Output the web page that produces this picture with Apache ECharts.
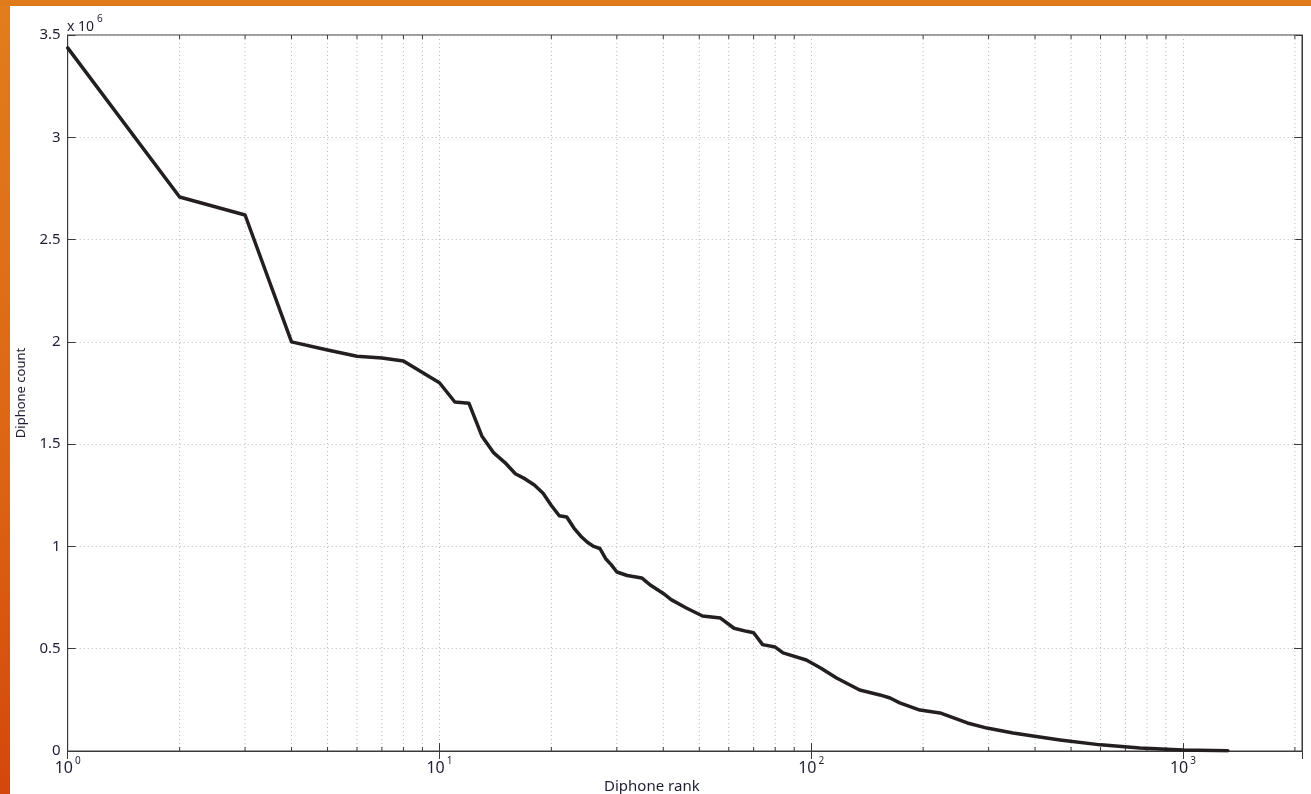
<!DOCTYPE html>
<html><head><meta charset="utf-8">
<script src="https://cdn.jsdelivr.net/npm/echarts@6/dist/echarts.min.js"></script>
<style>
html,body{margin:0;padding:0;width:1311px;height:794px;overflow:hidden;}
body{background:
 linear-gradient(#df7b1b,#df7b1b) 0 0/100% 6px no-repeat,
 linear-gradient(180deg,#e27d1d 0%,#dc6414 60%,#d4470c 100%) 0 0/10px 100% no-repeat,
 #ffffff;}
#chart{position:absolute;left:0;top:0;width:1311px;height:794px;}
</style></head><body><div id="chart"></div>
<script>
// Diphone rank (x, log scale)
const ranks = [1,2,3,4,5,6,7,8,9,10,11,12,13,14,15,16,17,18,19,20,21,22,23,24,25,26,27,28,29,30,32,35,37,40,42,46,51,57,62,67,70,74,80,84,97,106,117,135,153,163,173,196,222,263,297,349,395,467,600,766,1000,1320];
// Diphone count, in units of 10^6
const counts = [3.437,2.708,2.62,2.0,1.96,1.93,1.921,1.906,1.85,1.80,1.706,1.70,1.54,1.457,1.41,1.355,1.33,1.30,1.26,1.20,1.15,1.144,1.09,1.05,1.02,1.0,0.99,0.94,0.91,0.875,0.858,0.846,0.81,0.77,0.74,0.70,0.66,0.65,0.60,0.585,0.578,0.52,0.508,0.48,0.445,0.406,0.357,0.298,0.274,0.259,0.235,0.20,0.186,0.137,0.112,0.088,0.073,0.054,0.03,0.015,0.005,0.001];
// minor grid positions on the log x axis
const minorRanks = [2,3,4,5,6,7,8,9,20,30,40,50,60,70,80,90,200,300,400,500,600,700,800,900,2000];
const xMin = 1, xMax = 2090;
const yMin = 0, yMax = 3.5, yStep = 0.5;
const xTitle = 'Diphone rank';
const yTitle = 'Diphone count';
const yScaleNote = '{b|x 10}{s|6}';

const FONT = '"Noto Sans", "Open Sans", sans-serif';
const TXT = '#1e1e32';
const AX = '#3a3a3a';
const GRIDC = '#b8b8b8';

const lineData = ranks.map((r, i) => [r, counts[i]]);
const minorData = minorRanks.map(r => [r, 0]);

function logLabel(v) {
  const e = Math.round(Math.log10(v));
  if (Math.abs(Math.log10(v) - e) > 1e-6) return '';
  return '{b|10}{s|' + e + '}';
}

const chart = echarts.init(document.getElementById('chart'), null, {renderer: 'canvas'});
chart.setOption({
  animation: false,
  textStyle: {fontFamily: FONT},
  title: {
    text: yScaleNote, left: 67, top: 14, padding: 0,
    textStyle: {color: TXT, fontFamily: FONT, fontWeight: 'normal',
      rich: {
        b: {fontSize: 14, fontWeight: 'normal', color: TXT, fontFamily: FONT, verticalAlign: 'bottom'},
        s: {fontSize: 10, fontWeight: 'normal', color: TXT, fontFamily: FONT, verticalAlign: 'bottom', padding: [0, 0, 10, 3]}
      }}
  },
  grid: {left: 67.7, top: 35, right: 9, bottom: 43, outerBoundsMode: 'none', containLabel: false,
    show: true, borderColor: AX, borderWidth: 1, backgroundColor: '#fff'},
  xAxis: [{
    type: 'log', logBase: 10, min: xMin, max: xMax,
    name: xTitle, nameLocation: 'middle', nameGap: 28, nameMoveOverlap: false,
    nameTextStyle: {fontSize: 15, color: TXT, fontFamily: FONT, padding: [0, 66, 0, 0]},
    axisLine: {show: true, lineStyle: {color: AX, width: 1}},
    axisTick: {show: true, inside: true, length: 8, lineStyle: {color: AX}},
    axisLabel: {formatter: logLabel, margin: 5, color: TXT, fontFamily: FONT, showMaxLabel: false,
      rich: {
        b: {fontSize: 16, color: TXT, fontFamily: FONT, verticalAlign: 'bottom'},
        s: {fontSize: 10, color: TXT, fontFamily: FONT, verticalAlign: 'bottom', padding: [0, 0, 10, 2]}
      }},
    splitLine: {show: true, lineStyle: {color: GRIDC, type: [1, 3], width: 1}},
    minorTick: {show: false}, minorSplitLine: {show: false}
  }, {
    type: 'log', logBase: 10, min: xMin, max: xMax, position: 'top',
    axisLine: {show: true, lineStyle: {color: AX}},
    axisTick: {show: true, inside: true, length: 8, lineStyle: {color: AX}},
    axisLabel: {show: false}, splitLine: {show: false}
  }],
  yAxis: [{
    type: 'value', min: yMin, max: yMax, interval: yStep,
    name: yTitle, nameLocation: 'middle', nameGap: 40, nameMoveOverlap: false,
    nameTextStyle: {fontSize: 13, color: TXT, fontFamily: FONT},
    axisLine: {show: true, lineStyle: {color: AX}},
    axisTick: {show: true, inside: true, length: 8, lineStyle: {color: AX}},
    axisLabel: {margin: 7, fontSize: 15, color: TXT, fontFamily: FONT},
    splitLine: {show: true, lineStyle: {color: GRIDC, type: [1, 3], width: 1}}
  }, {
    type: 'value', min: yMin, max: yMax, interval: yStep, position: 'right',
    axisLine: {show: true, lineStyle: {color: AX}},
    axisTick: {show: true, inside: true, length: 8, lineStyle: {color: AX}},
    axisLabel: {show: false}, splitLine: {show: false}
  }],
  series: [{
    type: 'custom', xAxisIndex: 0, yAxisIndex: 0, silent: true, z: 1,
    data: minorData,
    renderItem: function (params, api) {
      const cs = params.coordSys;
      const px = api.coord([api.value(0), 0])[0];
      const top = cs.y, bot = cs.y + cs.height;
      return {type: 'group', children: [
        {type: 'line', shape: {x1: px, y1: top, x2: px, y2: bot}, style: {stroke: GRIDC, lineWidth: 1, lineDash: [1, 3]}},
        {type: 'line', shape: {x1: px, y1: bot, x2: px, y2: bot - 4}, style: {stroke: AX, lineWidth: 1}},
        {type: 'line', shape: {x1: px, y1: top, x2: px, y2: top + 4}, style: {stroke: AX, lineWidth: 1}}
      ]};
    }
  }, {
    type: 'line', xAxisIndex: 0, yAxisIndex: 0, z: 5,
    data: lineData, showSymbol: false, symbol: 'none', smooth: false,
    lineStyle: {color: '#231f20', width: 3.5, join: 'round', cap: 'round'}
  }]
});
</script></body></html>
